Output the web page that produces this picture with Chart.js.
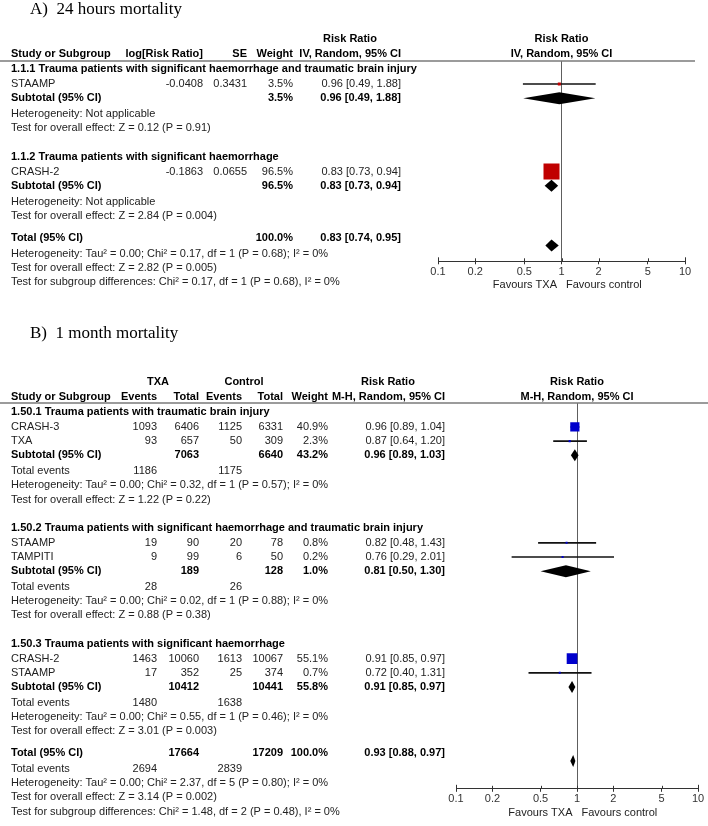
<!DOCTYPE html>
<html>
<head>
<meta charset="utf-8">
<title>TXA mortality forest plots</title>
<script src="https://cdn.jsdelivr.net/npm/chart.js@4.4.1/dist/chart.umd.min.js"></script>
<style>
  html, body { margin: 0; padding: 0; background: #fff; }
  #wrap { position: relative; width: 708px; height: 826px; }
  canvas { position: absolute; left: 0; }
  #chartA { top: 0; }
  #chartB { top: 300px; }
</style>
</head>
<body>
<div id="wrap">
  <canvas id="chartA" width="708" height="300"></canvas>
  <canvas id="chartB" width="708" height="526"></canvas>
</div>
<script>
// ---- A) 24 hours mortality (IV, Random) ----
var aGroups = [
  '1.1.1 Trauma patients with significant haemorrhage and traumatic brain injury',
  '1.1.2 Trauma patients with significant haemorrhage'
];
var aStudies = ['STAAMP', 'CRASH-2'];
var aStudyGroup = [0, 1];
var aLogRR = [-0.0408, -0.1863];
var aSE = [0.3431, 0.0655];
var aWeight = [3.5, 96.5];
var aRR = [0.96, 0.83];
var aLow = [0.49, 0.73];
var aHigh = [1.88, 0.94];
var aSubWeight = [3.5, 96.5];
var aSubRR = [0.96, 0.83];
var aSubLow = [0.49, 0.73];
var aSubHigh = [1.88, 0.94];
var aHet = ['Heterogeneity: Not applicable', 'Heterogeneity: Not applicable'];
var aEffect = ['Test for overall effect: Z = 0.12 (P = 0.91)', 'Test for overall effect: Z = 2.84 (P = 0.004)'];
var aTotal = [0.83, 0.74, 0.95];  // RR, low, high
var aTotalNotes = [
  'Heterogeneity: Tau\u00b2 = 0.00; Chi\u00b2 = 0.17, df = 1 (P = 0.68); I\u00b2 = 0%',
  'Test for overall effect: Z = 2.82 (P = 0.005)',
  'Test for subgroup differences: Chi\u00b2 = 0.17, df = 1 (P = 0.68), I\u00b2 = 0%'
];
var aColHeads = ['Study or Subgroup', 'log[Risk Ratio]', 'SE', 'Weight', 'IV, Random, 95% CI'];

// ---- B) 1 month mortality (M-H, Random) ----
var bGroups = [
  '1.50.1 Trauma patients with traumatic brain injury',
  '1.50.2 Trauma patients with significant haemorrhage and traumatic brain injury',
  '1.50.3 Trauma patients with significant haemorrhage'
];
var bStudies = ['CRASH-3', 'TXA', 'STAAMP', 'TAMPITI', 'CRASH-2', 'STAAMP'];
var bStudyGroup = [0, 0, 1, 1, 2, 2];
var bTxaEvents = [1093, 93, 19, 9, 1463, 17];
var bTxaTotal = [6406, 657, 90, 99, 10060, 352];
var bCtlEvents = [1125, 50, 20, 6, 1613, 25];
var bCtlTotal = [6331, 309, 78, 50, 10067, 374];
var bWeight = [40.9, 2.3, 0.8, 0.2, 55.1, 0.7];
var bRR = [0.96, 0.87, 0.82, 0.76, 0.91, 0.72];
var bLow = [0.89, 0.64, 0.48, 0.29, 0.85, 0.40];
var bHigh = [1.04, 1.20, 1.43, 2.01, 0.97, 1.31];
var bSubTxaTotal = [7063, 189, 10412];
var bSubCtlTotal = [6640, 128, 10441];
var bSubWeight = [43.2, 1.0, 55.8];
var bSubRR = [0.96, 0.81, 0.91];
var bSubLow = [0.89, 0.50, 0.85];
var bSubHigh = [1.03, 1.30, 0.97];
var bSubTxaEvents = [1186, 28, 1480];
var bSubCtlEvents = [1175, 26, 1638];
var bHet = [
  'Heterogeneity: Tau\u00b2 = 0.00; Chi\u00b2 = 0.32, df = 1 (P = 0.57); I\u00b2 = 0%',
  'Heterogeneity: Tau\u00b2 = 0.00; Chi\u00b2 = 0.02, df = 1 (P = 0.88); I\u00b2 = 0%',
  'Heterogeneity: Tau\u00b2 = 0.00; Chi\u00b2 = 0.55, df = 1 (P = 0.46); I\u00b2 = 0%'
];
var bEffect = [
  'Test for overall effect: Z = 1.22 (P = 0.22)',
  'Test for overall effect: Z = 0.88 (P = 0.38)',
  'Test for overall effect: Z = 3.01 (P = 0.003)'
];
var bTotalCounts = [17664, 17209, 2694, 2839];  // TXA total, control total, TXA events, control events
var bTotal = [0.93, 0.88, 0.97];
var bTotalNotes = [
  'Heterogeneity: Tau\u00b2 = 0.00; Chi\u00b2 = 2.37, df = 5 (P = 0.80); I\u00b2 = 0%',
  'Test for overall effect: Z = 3.14 (P = 0.002)',
  'Test for subgroup differences: Chi\u00b2 = 1.48, df = 2 (P = 0.48), I\u00b2 = 0%'
];
var bColHeads = ['Study or Subgroup', 'Events', 'Total', 'Events', 'Total', 'Weight', 'M-H, Random, 95% CI'];

var axisTicks = [0.1, 0.2, 0.5, 1, 2, 5, 10];

var FONT = '"Liberation Sans", Arial, sans-serif';
Chart.defaults.font.family = FONT;
Chart.defaults.font.size = 11;
Chart.defaults.color = '#333';


function pct(w) { return w.toFixed(1) + '%'; }
function ci(rr, lo, hi) { return rr.toFixed(2) + ' [' + lo.toFixed(2) + ', ' + hi.toFixed(2) + ']'; }

// vertical step (in table lines) between two consecutive rows
function rowStep(prev, kind) {
  if (prev === 'group') return 1.05;
  if (prev === 'study') return 1;
  if (prev === 'sub' || prev === 'total') return 1.12;
  if (kind === 'group') return 2;
  if (kind === 'total') return 1.55;
  return 1;
}

function newLayout() {
  var L = { rows: [], squares: [], whiskers: [], diamonds: [], y: 0, prev: null };
  L.add = function(kind, cells, bold) {
    if (L.prev !== null) L.y += rowStep(L.prev, kind);
    L.rows.push({ y: L.y, cells: cells, bold: !!bold });
    L.prev = kind;
    return L.y;
  };
  L.study = function(rr, lo, hi, w, y) {
    L.squares.push({ x: rr, y: y, w: w });
    L.whiskers.push({ x: [lo, hi], y: y });
  };
  L.diamond = function(rr, lo, hi, y) {
    L.diamonds.push({ est: rr, lo: lo, hi: hi, y: y });
  };
  return L;
}

function buildA() {
  var L = newLayout(), y;
  for (var g = 0; g < aGroups.length; g++) {
    L.add('group', [aGroups[g]], true);
    for (var i = 0; i < aStudies.length; i++) {
      if (aStudyGroup[i] !== g) continue;
      y = L.add('study', [aStudies[i], aLogRR[i].toFixed(4), aSE[i].toFixed(4), pct(aWeight[i]), ci(aRR[i], aLow[i], aHigh[i])]);
      L.study(aRR[i], aLow[i], aHigh[i], aWeight[i], y);
    }
    y = L.add('sub', ['Subtotal (95% CI)', '', '', pct(aSubWeight[g]), ci(aSubRR[g], aSubLow[g], aSubHigh[g])], true);
    L.diamond(aSubRR[g], aSubLow[g], aSubHigh[g], y);
    L.add('info', [aHet[g]]);
    L.add('info', [aEffect[g]]);
  }
  y = L.add('total', ['Total (95% CI)', '', '', pct(100), ci(aTotal[0], aTotal[1], aTotal[2])], true);
  L.diamond(aTotal[0], aTotal[1], aTotal[2], y + 0.55);  // RevMan sets the overall diamond a bit lower
  aTotalNotes.forEach(function(n) { L.add('info', [n]); });
  return L;
}

function buildB() {
  var L = newLayout(), y;
  for (var g = 0; g < bGroups.length; g++) {
    L.add('group', [bGroups[g]], true);
    for (var i = 0; i < bStudies.length; i++) {
      if (bStudyGroup[i] !== g) continue;
      y = L.add('study', [bStudies[i], String(bTxaEvents[i]), String(bTxaTotal[i]), String(bCtlEvents[i]),
        String(bCtlTotal[i]), pct(bWeight[i]), ci(bRR[i], bLow[i], bHigh[i])]);
      L.study(bRR[i], bLow[i], bHigh[i], bWeight[i], y);
    }
    y = L.add('sub', ['Subtotal (95% CI)', '', String(bSubTxaTotal[g]), '', String(bSubCtlTotal[g]),
      pct(bSubWeight[g]), ci(bSubRR[g], bSubLow[g], bSubHigh[g])], true);
    L.diamond(bSubRR[g], bSubLow[g], bSubHigh[g], y);
    L.add('info', ['Total events', String(bSubTxaEvents[g]), '', String(bSubCtlEvents[g])]);
    L.add('info', [bHet[g]]);
    L.add('info', [bEffect[g]]);
  }
  y = L.add('total', ['Total (95% CI)', '', String(bTotalCounts[0]), '', String(bTotalCounts[1]),
    pct(100), ci(bTotal[0], bTotal[1], bTotal[2])], true);
  L.diamond(bTotal[0], bTotal[1], bTotal[2], y + 0.55);
  L.add('info', ['Total events', String(bTotalCounts[2]), '', String(bTotalCounts[3])]);
  bTotalNotes.forEach(function(n) { L.add('info', [n]); });
  return L;
}


// Draws the table text, headers, diamonds and the "Favours" labels
function forestPlugin(p) {
  return {
    id: 'forest',
    afterDatasetsDraw: function(chart) {
      var ctx = chart.ctx, xs = chart.scales.x, ys = chart.scales.y;
      ctx.save();
      ctx.fillStyle = '#000';
      p.layout.diamonds.forEach(function(d) {
        var yc = ys.getPixelForValue(d.y);
        ctx.beginPath();
        ctx.moveTo(xs.getPixelForValue(d.lo), yc);
        ctx.lineTo(xs.getPixelForValue(d.est), yc - 6);
        ctx.lineTo(xs.getPixelForValue(d.hi), yc);
        ctx.lineTo(xs.getPixelForValue(d.est), yc + 6);
        ctx.closePath();
        ctx.fill();
      });
      ctx.restore();
    },
    afterDraw: function(chart) {
      var ctx = chart.ctx, xs = chart.scales.x, ys = chart.scales.y, area = chart.chartArea;
      var mid = (area.left + area.right) / 2;
      ctx.save();

      // RevMan ticks also poke above the axis line; the outer two are longer
      ctx.strokeStyle = '#333';
      ctx.lineWidth = 1;
      ctx.beginPath();
      axisTicks.forEach(function(v, i) {
        var x = Math.round(xs.getPixelForValue(v)) + 0.5;
        var up = (i === 0 || i === axisTicks.length - 1) ? 4 : 3;
        ctx.moveTo(x, area.bottom - up);
        ctx.lineTo(x, area.bottom);
      });
      ctx.stroke();

      ctx.fillStyle = '#000';
      ctx.textAlign = 'left';
      ctx.textBaseline = 'alphabetic';
      ctx.font = '17px "Liberation Serif", "Times New Roman", serif';
      ctx.fillText(p.title, 30, p.titleY);

      ctx.textBaseline = 'middle';
      function put(text, x, align, y, bold) {
        ctx.font = (bold ? 'bold ' : '') + '11px ' + FONT;
        ctx.fillStyle = bold ? '#000' : '#222';
        ctx.textAlign = align;
        ctx.fillText(text, x, y);
      }

      // column headers
      var yTop = ys.getPixelForValue(-2.1), yHead = ys.getPixelForValue(-1.1);
      p.topHeads.forEach(function(h) { put(h.text, h.x, 'center', yTop, true); });
      p.colHeads.forEach(function(t, c) { put(t, p.cols[c].x, p.cols[c].align, yHead, true); });
      put('Risk Ratio', mid, 'center', yTop, true);
      put(p.colHeads[p.colHeads.length - 1], mid, 'center', yHead, true);

      ctx.strokeStyle = '#7a7a7a';
      ctx.lineWidth = 1.5;
      ctx.beginPath();
      ctx.moveTo(0, area.top);
      ctx.lineTo(p.lineEnd, area.top);
      ctx.stroke();

      // body rows
      p.layout.rows.forEach(function(r) {
        var y = ys.getPixelForValue(r.y);
        r.cells.forEach(function(t, c) {
          if (!t) return;
          put(t, p.cols[c].x, r.cells.length === 1 ? 'left' : p.cols[c].align, y, r.bold);
        });
      });

      var x1 = xs.getPixelForValue(1);
      put('Favours TXA', x1 - 4.5, 'right', area.bottom + 24, false);
      put('Favours control', x1 + 4.5, 'left', area.bottom + 24, false);
      ctx.restore();
    }
  };
}


function forestChart(id, p) {
  var sq = p.layout.squares;
  var radii = sq.map(function(s) { return Math.max(2, p.squareScale * Math.sqrt(s.w)) / Math.SQRT2; });

  return new Chart(document.getElementById(id), {
    type: 'bar',
    data: {
      datasets: [{
        type: 'scatter',
        data: sq.map(function(s) { return { x: s.x, y: s.y }; }),
        pointStyle: 'rect',
        pointRadius: radii,
        pointHoverRadius: radii,
        backgroundColor: p.color,
        borderWidth: 0,
        order: 0
      }, {
        type: 'bar',
        indexAxis: 'y',
        data: p.layout.whiskers,
        backgroundColor: '#111',
        barThickness: 1,
        borderWidth: 0,
        order: 1
      }]
    },
    options: {
      indexAxis: 'y',
      responsive: false,
      animation: false,
      events: [],
      layout: { padding: p.padding },
      plugins: {
        legend: { display: false },
        tooltip: { enabled: false }
      },
      scales: {
        x: {
          type: 'logarithmic',
          min: 0.1,
          max: 10,
          beginAtZero: false,
          afterBuildTicks: function(scale) {
            scale.ticks = axisTicks.map(function(v) { return { value: v }; });
          },
          ticks: {
            autoSkip: false,
            maxRotation: 0,
            padding: 1,
            color: '#333',
            callback: function(value) { return String(value); }
          },
          grid: {
            drawOnChartArea: true,
            color: function(c) { return c.tick && c.tick.value === 1 ? '#5e5e5e' : 'rgba(0,0,0,0)'; },
            tickColor: '#333',
            tickLength: 3
          },
          border: { display: true, color: '#333', width: 1 }
        },
        y: {
          type: 'linear',
          display: false,
          reverse: true,
          offset: false,
          bounds: 'data',
          min: p.yRange[0],
          max: p.yRange[1],
          grid: { offset: false }
        }
      }
    },
    plugins: [forestPlugin(p)]
  });
}


forestChart('chartA', {
  layout: buildA(),
  title: 'A)  24 hours mortality',
  titleY: 14,
  color: '#c00000',
  squareScale: 1.63,
  padding: { left: 438, right: 23, top: 61, bottom: 20.5 },
  yRange: [-0.57, 13.55],
  lineEnd: 695,
  cols: [{ x: 11, align: 'left' }, { x: 203, align: 'right' }, { x: 247, align: 'right' },
         { x: 293, align: 'right' }, { x: 401, align: 'right' }],
  colHeads: aColHeads,
  topHeads: [{ text: 'Risk Ratio', x: 350 }]
});

forestChart('chartB', {
  layout: buildB(),
  title: 'B)  1 month mortality',
  titleY: 38,
  color: '#0000cc',
  squareScale: 1.44,
  padding: { left: 456, right: 10, top: 103, bottom: 19 },
  yRange: [-0.64, 26.57],
  lineEnd: 708,
  cols: [{ x: 11, align: 'left' }, { x: 157, align: 'right' }, { x: 199, align: 'right' },
         { x: 242, align: 'right' }, { x: 283, align: 'right' }, { x: 328, align: 'right' },
         { x: 445, align: 'right' }],
  colHeads: bColHeads,
  topHeads: [{ text: 'TXA', x: 158 }, { text: 'Control', x: 244 }, { text: 'Risk Ratio', x: 388 }]
});
</script>
</body>
</html>
